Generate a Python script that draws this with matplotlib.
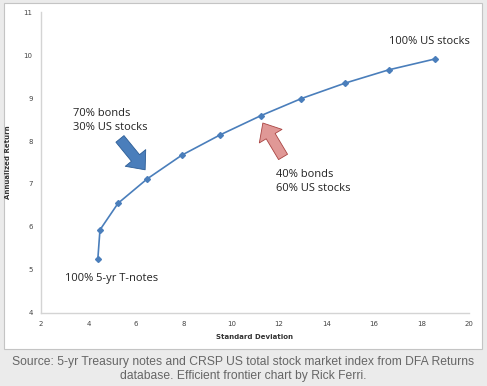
import matplotlib
matplotlib.use("Agg")
import matplotlib.pyplot as plt
from matplotlib.patches import Rectangle

# Efficient frontier: 0% .. 100% US stocks in 10% steps
std_dev = [4.39, 4.48, 5.24, 6.47, 7.92, 9.52, 11.24, 12.95, 14.79, 16.63, 18.55]
ann_return = [5.25, 5.93, 6.55, 7.12, 7.67, 8.14, 8.59, 8.99, 9.35, 9.66, 9.91]

x_ticks = list(range(2, 21, 2))
y_ticks = list(range(4, 12))

line_color = "#4a7ebb"

fig = plt.figure(figsize=(4.87, 3.86), dpi=100, facecolor="#ebebeb")

# white chart panel with thin grey border
fig.patches.append(Rectangle((4 / 487, 37 / 386), 478 / 487, 346 / 386,
                             transform=fig.transFigure, facecolor="white",
                             edgecolor="#c4c4c4", linewidth=0.8, zorder=-5))

ax = fig.add_axes([41 / 487, 73.3 / 386, 428 / 487, 300.4 / 386])
ax.set_zorder(2)
ax.set_facecolor("none")
ax.plot(std_dev, ann_return, color=line_color, linewidth=1.2,
        marker="D", markersize=3, markerfacecolor=line_color,
        markeredgecolor=line_color, zorder=3)

ax.set_xlim(2, 20)
ax.set_ylim(4, 11)
ax.set_xticks(x_ticks)
ax.set_yticks(y_ticks)
ax.tick_params(length=0, labelsize=5, colors="#444444", pad=6)
for s in ["top", "right"]:
    ax.spines[s].set_visible(False)
for s in ["left", "bottom"]:
    ax.spines[s].set_color("#d4d4d4")
    ax.spines[s].set_linewidth(1)

ax.set_xlabel("Standard Deviation", fontsize=5, fontweight="bold",
              color="#333333", labelpad=5)
ax.set_ylabel("Annualized Return", fontsize=5, fontweight="bold",
              color="#333333", labelpad=9)

txt = dict(fontsize=8.0, family="Open Sans", color="#222222",
           linespacing=1.35)
ax.text(16.62, 10.31, "100% US stocks", ha="left", va="center", **txt)
ax.text(3.34, 8.47, "70% bonds\n30% US stocks", ha="left", va="center", **txt)
ax.text(11.87, 7.06, "40% bonds\n60% US stocks", ha="left", va="center", **txt)
ax.text(3.01, 4.79, "100% 5-yr T-notes", ha="left", va="center", **txt)

# block arrows
arrow_style = "simple,head_length=1.1,head_width=1.9,tail_width=0.75"
ax.annotate("", xy=(6.38, 7.33), xytext=(5.32, 8.05),
            arrowprops=dict(arrowstyle=arrow_style,
                            mutation_scale=10, facecolor="#4a7ebb",
                            edgecolor="#2c5d96", linewidth=0.6,
                            shrinkA=0, shrinkB=0))
ax.annotate("", xy=(11.33, 8.42), xytext=(12.18, 7.63),
            arrowprops=dict(arrowstyle=arrow_style,
                            mutation_scale=10, facecolor="#e09896",
                            edgecolor="#a94442", linewidth=0.6,
                            shrinkA=0, shrinkB=0))

cap = dict(ha="center", va="center", fontsize=8.75, family="Liberation Sans",
           color="#666666")
fig.text(0.5, 1 - 362 / 386,
         "Source: 5-yr Treasury notes and CRSP US total stock market index from DFA Returns",
         **cap)
fig.text(0.5, 1 - 376 / 386,
         "database. Efficient frontier chart by Rick Ferri.", **cap)

fig.savefig("out.png", dpi=100, facecolor=fig.get_facecolor())
